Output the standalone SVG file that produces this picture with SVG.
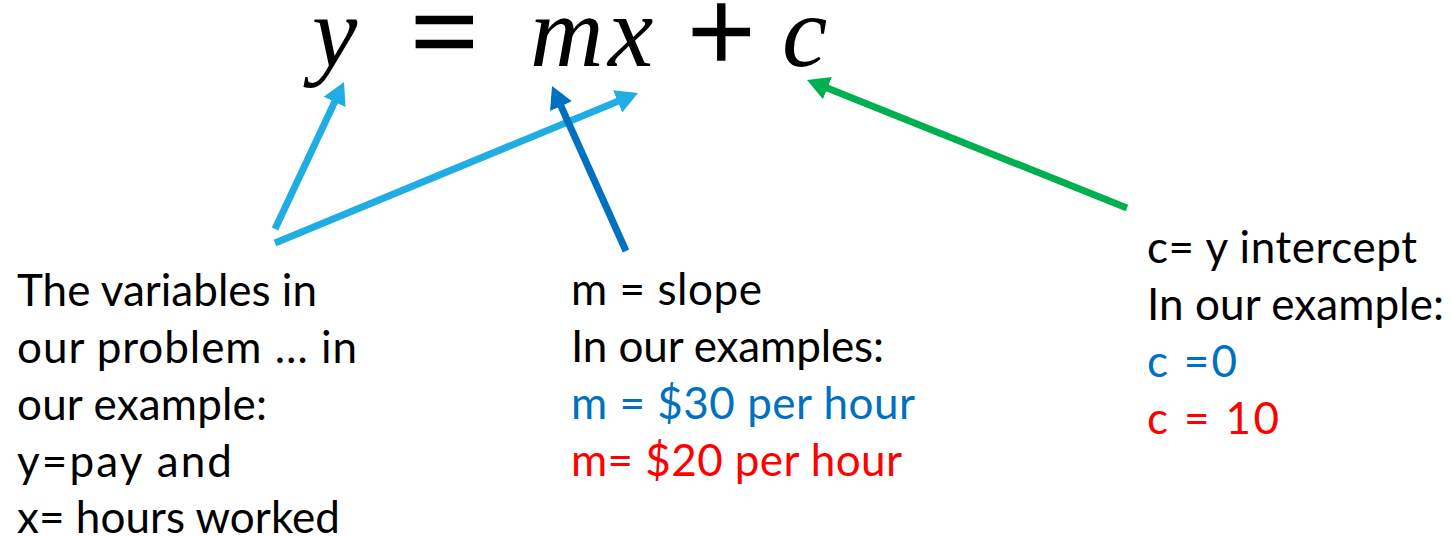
<svg xmlns="http://www.w3.org/2000/svg" width="1453" height="536" viewBox="0 0 1453 536">
<style>
.eq{font-family:"Liberation Serif","Times New Roman",serif;font-size:102px;fill:#000}
.op{font-size:118px;stroke:#000;stroke-width:2.5}
.it{font-style:italic}
.t{font-family:Lato,"Liberation Sans",sans-serif;font-size:44px;fill:#000}
.blue{fill:#0070C0}
.red{fill:#FF0000}
.conn line{stroke-width:7;fill:none}
</style>
<defs>
<marker id="hLB" markerUnits="userSpaceOnUse" markerWidth="24" markerHeight="26" viewBox="0 -13 24 26" refX="1" refY="0" orient="auto"><path d="M0,-12 L22,0 L0,12 z" fill="#1FADE4"/></marker>
<marker id="hDB" markerUnits="userSpaceOnUse" markerWidth="24" markerHeight="26" viewBox="0 -13 24 26" refX="1" refY="0" orient="auto"><path d="M0,-12 L22,0 L0,12 z" fill="#0070C0"/></marker>
<marker id="hG" markerUnits="userSpaceOnUse" markerWidth="24" markerHeight="26" viewBox="0 -13 24 26" refX="1" refY="0" orient="auto"><path d="M0,-12 L22,0 L0,12 z" fill="#00B050"/></marker>
</defs>
<g id="equation">
<text class="eq it" x="312" y="66">y</text>
<text class="eq op" x="411" y="72">=</text>
<text class="eq it" x="530" y="66">m</text>
<text class="eq it" x="608" y="66">x</text>
<text class="eq op" x="688" y="72">+</text>
<text class="eq it" x="782" y="66">c</text>
</g>
<g id="conn" class="conn">
<line x1="275" y1="229" x2="335.1" y2="101" stroke="#1FADE4" marker-end="url(#hLB)"/>
<line x1="275" y1="243" x2="618.6" y2="101" stroke="#1FADE4" marker-end="url(#hLB)"/>
<line x1="626" y1="251" x2="560.6" y2="105.2" stroke="#0070C0" marker-end="url(#hDB)"/>
<line x1="1127" y1="208" x2="826.5" y2="87.8" stroke="#00B050" marker-end="url(#hG)"/>
</g>
<g id="variables">
<text class="t" x="17" y="306" textLength="300" lengthAdjust="spacing">The variables in</text>
<text class="t" x="17" y="363" textLength="340" lengthAdjust="spacing">our problem … in</text>
<text class="t" x="17" y="420" textLength="250" lengthAdjust="spacing">our example:</text>
<text class="t" x="17" y="477" textLength="215" lengthAdjust="spacing">y=pay and</text>
<text class="t" x="17" y="533" textLength="323" lengthAdjust="spacing">x= hours worked</text>
</g>
<g id="slope">
<text class="t" x="571" y="305" textLength="191" lengthAdjust="spacing">m = slope</text>
<text class="t" x="571" y="362" textLength="313" lengthAdjust="spacing">In our examples:</text>
<text class="t blue" x="571" y="419" textLength="344" lengthAdjust="spacing">m = $30 per hour</text>
<text class="t red" x="571" y="476" textLength="331" lengthAdjust="spacing">m= $20 per hour</text>
</g>
<g id="intercept">
<text class="t" x="1147" y="263" textLength="270" lengthAdjust="spacing">c= y intercept</text>
<text class="t" x="1147" y="320" textLength="297" lengthAdjust="spacing">In our example:</text>
<text class="t blue" x="1147" y="377" textLength="90" lengthAdjust="spacing">c =0</text>
<text class="t red" x="1147" y="434" textLength="132" lengthAdjust="spacing">c = 10</text>
</g>
</svg>
